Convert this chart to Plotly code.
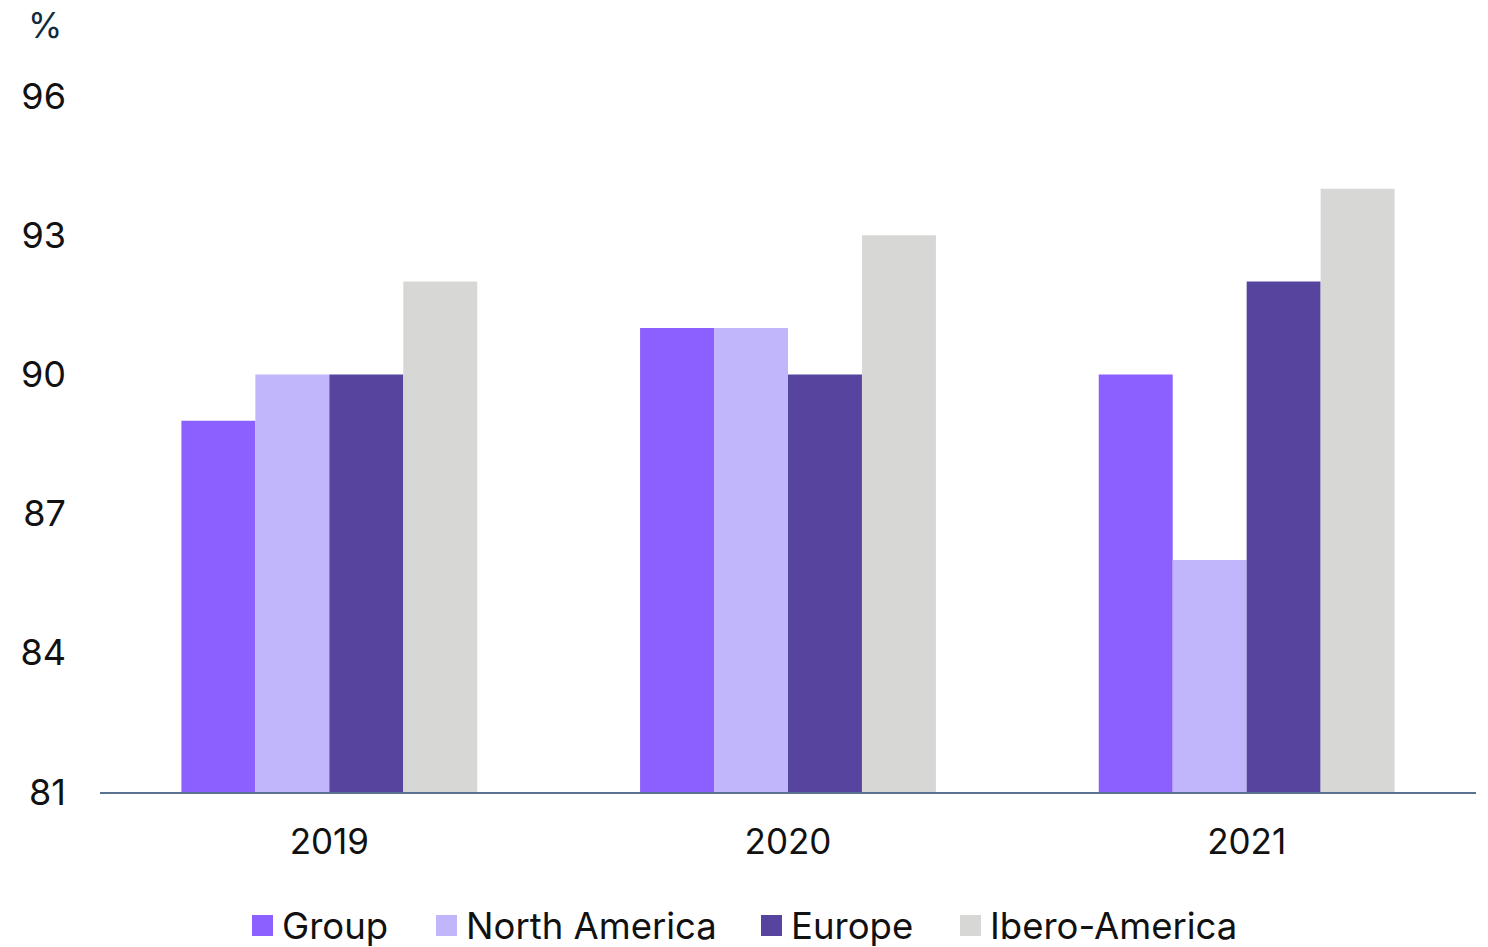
import plotly.graph_objects as go

# Data
years = ["2019", "2020", "2021"]
series_names = ["Group", "North America", "Europe", "Ibero-America"]
group_vals = [89, 91, 90]
north_america_vals = [90, 91, 86]
europe_vals = [90, 90, 92]
ibero_america_vals = [92, 93, 94]
y_ticks = [81, 84, 87, 90, 93, 96]

colors = ["#8C5FFF", "#C1B5FB", "#56449E", "#D7D7D5"]
values = [group_vals, north_america_vals, europe_vals, ibero_america_vals]

W, H = 1488, 947
FONT = "Inter, Roboto, sans-serif"

fig = go.Figure()
for name, vals, col in zip(series_names, values, colors):
    fig.add_trace(go.Bar(
        x=years, y=vals, name=name, marker=dict(color=col, line=dict(width=0)),
        showlegend=False,
    ))

# Custom legend: large square swatches followed by labels
legend_x = [252, 436, 761, 960]   # swatch left edges in pixels
sw = 21
ly = 925.5
for name, col, x0 in zip(series_names, colors, legend_x):
    fig.add_shape(type="rect", xref="paper", yref="paper",
                  x0=(x0 - 100) / 1376, x1=(x0 + sw - 100) / 1376,
                  y0=-(ly + sw / 2 - 792) / 696, y1=-(ly - sw / 2 - 792) / 696,
                  fillcolor=col, line=dict(width=0), layer="above")
    fig.add_annotation(text=name, xref="paper", yref="paper",
                       x=(x0 + sw + 7 - 100) / 1376, y=-(ly - 792) / 696,
                       xanchor="left", yanchor="middle", showarrow=False,
                       font=dict(size=36.5, color="#111111", family=FONT))

fig.add_annotation(text="%", xref="paper", yref="paper",
                   x=(45 - 100) / 1376, y=(792 - 25) / 696,
                   xanchor="center", yanchor="middle", showarrow=False,
                   font=dict(size=35, color="#0F2B3D", family=FONT))

fig.update_layout(
    width=W, height=H,
    margin=dict(l=100, r=12, t=96, b=155),
    paper_bgcolor="white", plot_bgcolor="white",
    barmode="group", bargap=0.355, bargroupgap=0,
    font=dict(family=FONT, color="#111111"),
)
fig.update_xaxes(
    showgrid=False, showline=True, linecolor="#5B7393", linewidth=2,
    ticks="", tickfont=dict(size=35, color="#111111"), ticklabelstandoff=18,
)
fig.update_yaxes(
    range=[81, 96], tickvals=y_ticks, showgrid=False, zeroline=False,
    showline=False, ticks="", tickfont=dict(size=36, color="#111111"),
    ticklabelstandoff=33,
)

fig.write_html("out.html")
